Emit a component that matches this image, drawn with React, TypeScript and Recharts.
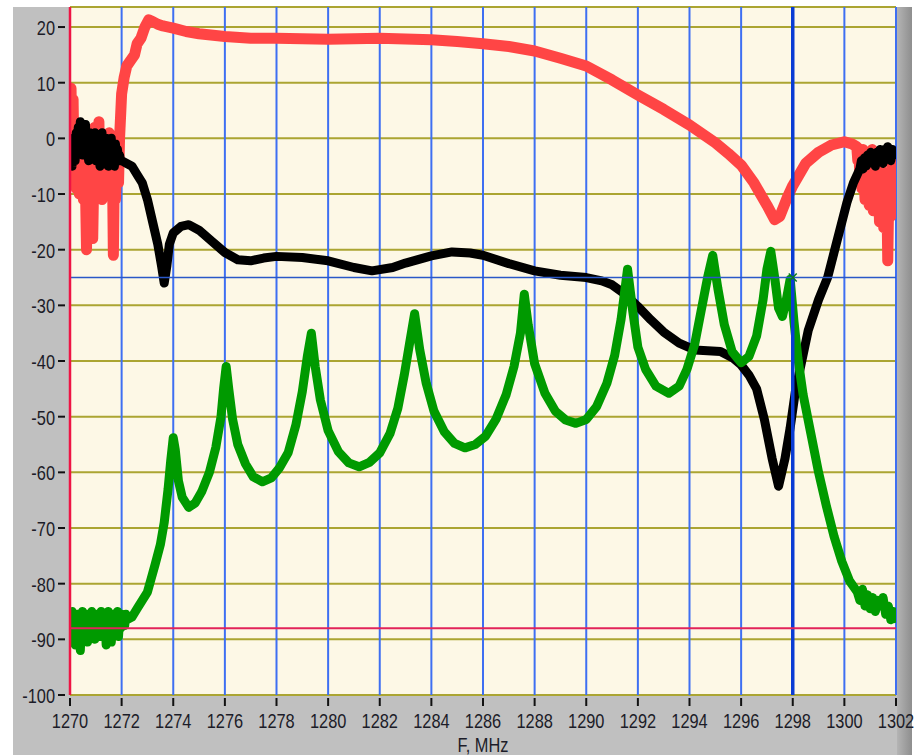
import React from 'react';
import { LineChart, Line, XAxis, YAxis, CartesianGrid, ReferenceLine, ReferenceDot } from 'recharts';

// frequency axis, MHz
const xTicks = [1270, 1272, 1274, 1276, 1278, 1280, 1282, 1284, 1286, 1288, 1290, 1292, 1294, 1296, 1298, 1300, 1302];
const yTicks = [-100, -90, -80, -70, -60, -50, -40, -30, -20, -10, 0, 10, 20];

// noisy stretch at the low edge (shared sampling for all three traces)
const lowEdgeFreq = [
  1270.00, 1270.04, 1270.08, 1270.12, 1270.16, 1270.20, 1270.24, 1270.28, 1270.32, 1270.36,
  1270.40, 1270.44, 1270.48, 1270.52, 1270.56, 1270.60, 1270.64, 1270.68, 1270.72, 1270.76,
  1270.80, 1270.84, 1270.88, 1270.92, 1270.96, 1271.00, 1271.04, 1271.08, 1271.12, 1271.16,
  1271.20, 1271.24, 1271.28, 1271.32, 1271.36, 1271.40, 1271.44, 1271.48, 1271.52, 1271.56,
  1271.60, 1271.64, 1271.68, 1271.72, 1271.76, 1271.80, 1271.84, 1271.88, 1271.92, 1271.96,
];
const greenLowExtraFreq = [1272.00, 1272.04, 1272.08, 1272.12, 1272.16, 1272.20];

// red trace
const redLowDb = [
  6, 9, -2, 7, -7, 3, -9, 1, -5, -10,
  0, -8, -3, -11, -4, -9, -20, -6, -2, -9,
  1, -12, -18, -7, 2, -10, -1, -6, 3, -9,
  -4, -11, 0, -7, -2, -10, -5, -8, 1, -6,
  -9, -3, -21, -4, -11, -6, -1, -8, 0, 4,
];
const redMidFreq = [
  1272.0, 1272.1, 1272.2, 1272.35, 1272.5, 1272.6, 1272.75, 1272.9, 1273.05, 1273.2, 1273.4, 1273.6, 1274,
  1274.5, 1275, 1276, 1277, 1278, 1280, 1282, 1284, 1285, 1286, 1287, 1288, 1289, 1290, 1291, 1292, 1293,
  1294, 1295, 1295.5, 1296, 1296.5, 1297, 1297.3, 1297.5, 1297.8, 1298, 1298.5, 1299, 1299.5, 1300, 1300.3,
];
const redMidDb = [
  8, 11, 13, 14, 15, 17, 18, 20, 21.3, 21, 20.5, 20.2, 19.8,
  19.2, 18.8, 18.3, 18, 18, 17.8, 18, 17.7, 17.4, 17, 16.5, 15.7, 14.4, 13, 10.5, 7.8, 5.2,
  2.4, -0.8, -2.7, -4.8, -8, -12, -14.6, -14, -10.5, -8.5, -4.5, -2.5, -1.2, -0.6, -1,
];
const redHighFreq = [
  1300.48, 1300.52, 1300.56, 1300.60, 1300.64, 1300.68, 1300.72, 1300.76, 1300.80, 1300.84,
  1300.88, 1300.92, 1300.96, 1301.00, 1301.04, 1301.08, 1301.12, 1301.16, 1301.20, 1301.24,
  1301.28, 1301.32, 1301.36, 1301.40, 1301.44, 1301.48, 1301.52, 1301.56, 1301.60, 1301.64,
  1301.68, 1301.72, 1301.76, 1301.80, 1301.84, 1301.88, 1301.92, 1301.96, 1302.00,
];
const redHighDb = [
  -1.5, -4, -2, -7, -3, -9, -2, -6, -11, -4,
  -8, -3, -12, -5, -9, -2, -13, -6, -10, -4,
  -12, -7, -15, -5, -11, -8, -16, -9, -13, -7,
  -22, -10, -6, -14, -4, -11, -7, -12, -9,
];

// black trace
const blackLowDb = [
  -3, -1, -5, 0, -2, -4, 1, -1, 2, -2,
  3, 0, -3, 1, -1, 2.5, -2, 0, -4, 1,
  -1, -3, 0, -2, 1, -4, -1, -3, 0, -5,
  -2, 1, -3, -1, -4, 0, -2, -5, -1, -3,
  0, -4, -2, -5, -1, -3, -2, -4, -3, -4,
];
const blackMidFreq = [
  1272.0, 1272.2, 1272.4, 1272.6, 1272.8, 1273.0, 1273.2, 1273.4, 1273.55, 1273.65, 1273.75, 1273.85, 1274,
  1274.3, 1274.6, 1275, 1275.5, 1276, 1276.5, 1277, 1277.5, 1278, 1279, 1280, 1281, 1281.7, 1282.5, 1283,
  1284, 1284.8, 1285.5, 1286, 1287, 1288, 1289, 1290, 1290.6, 1291, 1291.5, 1292, 1292.5, 1293, 1293.6,
  1294.2, 1295.2, 1295.7, 1296, 1296.3, 1296.6, 1296.9, 1297.2, 1297.45, 1297.7, 1297.9, 1298.1, 1298.6,
  1299.0, 1299.35, 1299.6, 1299.85, 1300.1, 1300.35,
];
const blackMidDb = [
  -4, -4.5, -5, -6.5, -8, -11, -15, -19, -23, -26, -23, -19, -17,
  -15.8, -15.5, -16.5, -18.5, -20.5, -21.8, -22, -21.5, -21.2, -21.4, -22, -23.2, -23.8, -23.2, -22.4,
  -21.1, -20.4, -20.6, -21, -22.5, -23.8, -24.6, -25, -25.6, -26.3, -28, -30.2, -32.6, -34.8, -36.8,
  -38, -38.3, -39.5, -40.7, -42.5, -45, -50.5, -57.5, -62.5, -57.5, -52, -45.5, -34.5,
  -29, -25, -20.5, -16, -11.5, -8,
];
const blackHighFreq = [
  1300.60, 1300.66, 1300.72, 1300.78, 1300.84, 1300.90, 1300.96, 1301.02, 1301.08, 1301.14,
  1301.20, 1301.26, 1301.32, 1301.38, 1301.44, 1301.50, 1301.56, 1301.62, 1301.68, 1301.74,
  1301.80, 1301.86, 1301.92, 1302.00,
];
const blackHighDb = [
  -5.5, -4, -5.5, -3.5, -5, -3, -4.5, -2.5, -4, -3,
  -5, -2.5, -4, -2, -3.5, -4.5, -2, -3.5, -1.5, -3,
  -4, -2, -3, -2.5,
];

// green trace
const greenLowDb = [
  -86, -88.5, -85, -89, -86.5, -91, -87, -85.5, -90, -86,
  -92, -87.5, -85, -89.5, -86.5, -88, -85.5, -90.5, -87, -86,
  -89, -85, -88, -86.5, -90, -87, -85.5, -88.5, -86, -89.5,
  -85, -87.5, -86.5, -88, -85.5, -91, -87, -85, -89, -86,
  -90.5, -87.5, -85.5, -88, -86, -87, -85, -89.5, -86.5, -88,
  -85.5, -87, -86, -87.5, -85.5, -86.5,
];
const greenMidFreq = [
  1272.4, 1272.6, 1272.8, 1273.0, 1273.15, 1273.3, 1273.5, 1273.65, 1273.8, 1273.9, 1274.0, 1274.08, 1274.2,
  1274.35, 1274.6, 1274.85, 1275.1, 1275.4, 1275.65, 1275.85, 1275.95, 1276.05, 1276.15, 1276.3, 1276.5,
  1276.8, 1277.1, 1277.45, 1277.8, 1278.1, 1278.45, 1278.75, 1279.0, 1279.2, 1279.35, 1279.5, 1279.7, 1280.0,
  1280.4, 1280.8, 1281.2, 1281.6, 1282.0, 1282.4, 1282.7, 1282.95, 1283.15, 1283.35, 1283.55, 1283.8, 1284.1,
  1284.5, 1284.9, 1285.3, 1285.7, 1286.1, 1286.5, 1286.9, 1287.2, 1287.45, 1287.6, 1287.75, 1288.0, 1288.4,
  1288.8, 1289.2, 1289.6, 1290.0, 1290.4, 1290.8, 1291.1, 1291.35, 1291.6, 1291.8, 1292.0, 1292.3, 1292.7,
  1293.2, 1293.6, 1293.9, 1294.2, 1294.45, 1294.7, 1294.9, 1295.1, 1295.35, 1295.65, 1296.0, 1296.3, 1296.6,
  1296.85, 1297.0, 1297.15, 1297.3, 1297.45, 1297.6, 1297.75, 1297.9, 1298.05, 1298.2, 1298.4, 1298.7, 1299.0,
  1299.3, 1299.6, 1299.9, 1300.2,
];
const greenMidDb = [
  -86, -84.5, -83, -81.5, -79, -76.5, -73, -69, -63, -58, -53.8, -56, -61.5,
  -64.5, -66.3, -65.5, -63.5, -60, -55.5, -50, -45, -41, -45, -50.5, -55,
  -58.5, -60.8, -61.7, -61, -59.3, -56.5, -51.5, -45.5, -39, -35, -41, -47, -52.5,
  -56.3, -58.3, -59, -58.2, -56.5, -53, -48.5, -42.5, -37, -31.5, -38, -44, -49,
  -52.7, -54.8, -55.6, -55, -53.5, -50.5, -46, -41, -35, -28, -33.5, -40.5, -45.8,
  -49, -50.6, -51.2, -50.5, -48.2, -44, -39, -32.5, -23.5, -31, -37.5, -41.5, -44.5,
  -45.8, -44.5, -41.5, -37, -31, -25, -21, -27, -33.5, -38.3, -40.3, -39.2, -35.5,
  -29, -23.5, -20.3, -25, -30.5, -32, -29, -25.3, -33, -39.5, -46, -53, -60,
  -66, -71.5, -76, -79.5,
];
const greenHighFreq = [1300.5, 1300.6, 1300.7, 1300.8, 1300.9, 1301.0, 1301.1, 1301.2, 1301.3, 1301.4, 1301.5, 1301.6, 1301.7, 1301.8, 1301.9, 1302];
const greenHighDb = [-81.5, -83, -81, -84, -82, -84.5, -82.5, -85, -83, -84, -82.5, -85.5, -84, -86.5, -85, -87];

// cursor positions
const cursorFreq = 1298;
const cursorLevel = -25;
const markerLevel = -88;

const toPoints = (fs: number[], vs: number[]) => fs.map((f, i) => ({ f, v: vs[i] }));
const redData = [
  ...toPoints(lowEdgeFreq, redLowDb),
  ...toPoints(redMidFreq, redMidDb),
  ...toPoints(redHighFreq, redHighDb),
];
const blackData = [
  ...toPoints(lowEdgeFreq, blackLowDb),
  ...toPoints(blackMidFreq, blackMidDb),
  ...toPoints(blackHighFreq, blackHighDb),
];
const greenData = [
  ...toPoints([...lowEdgeFreq, ...greenLowExtraFreq], greenLowDb),
  ...toPoints(greenMidFreq, greenMidDb),
  ...toPoints(greenHighFreq, greenHighDb),
];

const FONT = '"Liberation Sans", Arial, sans-serif';
const TEXT = '#1c1c28';
const SQUEEZE = 0.82; // the instrument font is narrow

const YTick = ({ x, y, payload }: any) => (
  <g>
    <text
      transform={`translate(${x - 15},${y + 8}) scale(${SQUEEZE},1)`}
      textAnchor="end"
      fontFamily={FONT}
      fontSize={20}
      fill={TEXT}
    >
      {payload.value}
    </text>
    <line x1={x - 12} x2={x - 5} y1={y} y2={y} stroke="#111" strokeWidth={2} />
  </g>
);

const XTick = ({ x, y, payload }: any) => (
  <g>
    <line x1={x} x2={x} y1={y + 3} y2={y + 11} stroke="#111" strokeWidth={2} />
    <text
      transform={`translate(${x},${y + 33}) scale(${SQUEEZE},1)`}
      textAnchor="middle"
      fontFamily={FONT}
      fontSize={20}
      fill={TEXT}
    >
      {payload.value}
    </text>
  </g>
);

const AxisTitle = ({ viewBox }: any) => (
  <text
    transform={`translate(${viewBox.x + viewBox.width / 2},752) scale(${SQUEEZE},1)`}
    textAnchor="middle"
    fontFamily={FONT}
    fontSize={20}
    fill={TEXT}
  >
    F, MHz
  </text>
);

const CursorMark = ({ cx, cy }: any) => (
  <path d={`M${cx - 4},${cy - 4}L${cx + 4},${cy + 4}M${cx - 4},${cy + 4}L${cx + 4},${cy - 4}`} stroke="#0a7a20" strokeWidth={1.5} />
);

export default function App() {
  return (
    <div style={{ position: 'absolute', left: 0, top: 0, width: 918, height: 755, background: '#fff', overflow: 'hidden' }}>
      <div style={{ position: 'absolute', left: 13, top: 7, width: 884, height: 748, background: '#c0c0c0' }} />
      <div
        style={{
          position: 'absolute', left: 897, top: 7, width: 15, height: 748,
          background: 'linear-gradient(to right, #b4b4b4, #8e8e8e)',
        }}
      />
      <div style={{ position: 'absolute', left: 0, top: 0 }}>
        <LineChart width={918} height={755} margin={{ top: 7, right: 22, bottom: 0, left: 13 }}>
          <CartesianGrid vertical={false} horizontal fill="#fdf8e6" stroke="#aba532" strokeWidth={2} />
          <CartesianGrid vertical horizontal={false} stroke="#3e6ff2" strokeWidth={2} />
          <XAxis
            dataKey="f"
            type="number"
            domain={[1270, 1302]}
            ticks={xTicks}
            allowDataOverflow
            axisLine={false}
            tickLine={false}
            tickSize={0}
            tickMargin={0}
            height={60}
            tick={<XTick />}
            interval={0}
            label={<AxisTitle />}
          />
          <YAxis
            dataKey="v"
            type="number"
            domain={[-100, 23.6]}
            ticks={yTicks}
            allowDataOverflow
            axisLine={false}
            tickLine={false}
            tickSize={0}
            tickMargin={0}
            width={57}
            tick={<YTick />}
            interval={0}
          />
          <Line data={redData} dataKey="v" stroke="#ff4545" strokeWidth={11} dot={false} strokeLinejoin="round" isAnimationActive={false} />
          <Line data={blackData} dataKey="v" stroke="#000" strokeWidth={9} dot={false} strokeLinejoin="round" isAnimationActive={false} />
          <Line data={greenData} dataKey="v" stroke="#009a00" strokeWidth={9} dot={false} strokeLinejoin="round" isAnimationActive={false} />
          <ReferenceLine x={cursorFreq} stroke="#0a3cd4" strokeWidth={3.5} />
          <ReferenceLine y={cursorLevel} stroke="#2a58c8" strokeWidth={1.5} />
          <ReferenceLine y={markerLevel} stroke="#e2245a" strokeWidth={2} />
          <ReferenceLine x={1270} stroke="#ee1444" strokeWidth={2.5} />
          <ReferenceDot x={cursorFreq} y={cursorLevel} shape={<CursorMark />} />
        </LineChart>
      </div>
    </div>
  );
}
